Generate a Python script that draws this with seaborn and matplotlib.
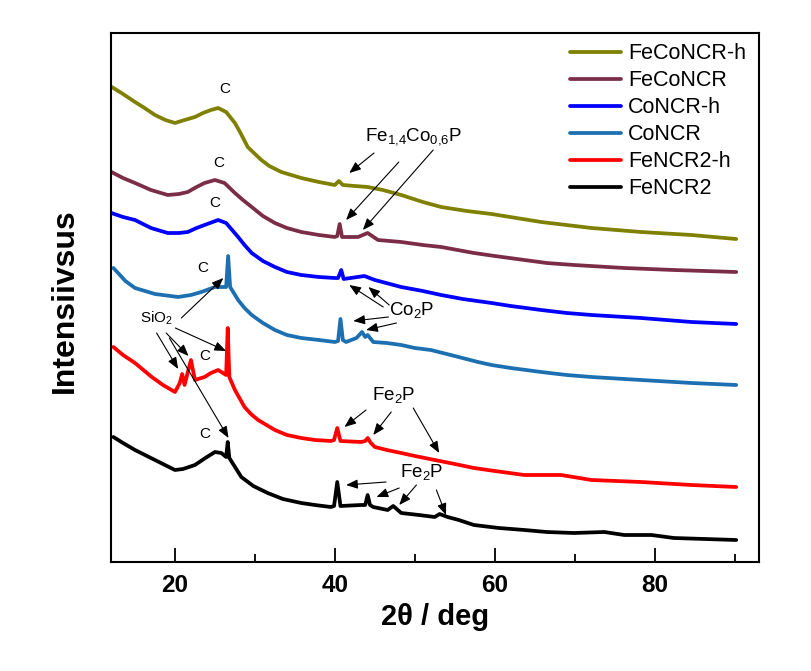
import numpy as np
import pandas as pd
import matplotlib
matplotlib.use("Agg")
import matplotlib.pyplot as plt
import seaborn as sns
from matplotlib.ticker import FixedLocator

# ---------------- data (2theta in deg, intensity in arbitrary offset units) -------------
labels = ["FeCoNCR-h", "FeCoNCR", "CoNCR-h", "CoNCR", "FeNCR2-h", "FeNCR2"]
colors = ["#808000", "#7B2D46", "#0000FF", "#1C6FB0", "#FF0000", "#000000"]

x_fecoh = [12.1, 13.5, 15.0, 16.2, 17.5, 18.8, 20.0, 21.2, 22.5, 23.5, 24.5, 25.4, 26.4,
           27.5, 28.2, 29.1, 30.8, 31.8, 33.3, 35.8, 38.0, 40.0, 40.5, 41.0, 42.5, 44.1,
           46.0, 48.3, 51.0, 53.3, 56.5, 59.6, 65.8, 72.1, 78.3, 84.6, 90.2]
y_fecoh = [483, 476, 468, 462, 455, 450, 447, 450, 453, 457, 460, 462, 458,
           447, 437, 423, 410, 404, 398, 392, 388, 385, 389, 385, 384, 383,
           380, 375, 368, 363, 359, 356, 348, 342, 338, 335, 331]

x_feco = [12.05, 13.5, 15.0, 17.0, 19.1, 20.5, 21.6, 22.7, 23.7, 25.0, 26.2, 27.5, 28.5,
          29.6, 31.0, 32.5, 34.0, 35.8, 38.0, 40.0, 40.3, 40.6, 40.9, 42.9, 44.1, 45.4,
          48.3, 51.0, 53.3, 57.4, 60.0, 63.7, 66.5, 69.9, 76.2, 82.4, 90.2]
y_feco = [398, 392, 387, 380, 375, 376, 378, 383, 387, 390, 387, 377, 370,
          363, 354, 347, 342, 338, 335, 333, 334, 346, 333, 333, 337, 330,
          328, 325, 323, 317, 314, 310, 307, 305, 302, 300, 298]

x_coh = [12.05, 13.5, 15.0, 17.0, 19.1, 20.5, 21.6, 22.7, 23.7, 25.4, 26.4, 27.9, 28.7,
         29.6, 31.0, 32.5, 34.0, 35.8, 38.0, 40.0, 40.4, 40.8, 41.1, 43.7, 45.0, 48.3,
         51.0, 53.3, 56.0, 59.6, 62.0, 65.8, 69.0, 72.1, 78.3, 84.6, 90.2]
y_coh = [357, 353, 350, 342, 337, 337, 338, 342, 345, 350, 347, 333, 325,
         317, 309, 303, 298, 295, 293, 292, 292, 300, 291, 294, 290, 283,
         279, 275, 271, 267, 264, 260, 257, 255, 252, 248, 246]

x_co = [12.3, 13.0, 13.8, 15.0, 17.5, 20.4, 22.0, 23.3, 25.0, 26.4, 26.65, 26.9, 27.9,
        28.7, 29.6, 31.0, 32.5, 34.0, 35.8, 38.0, 40.0, 40.4, 40.7, 41.0, 41.4, 42.7,
        43.4, 43.8, 44.1, 44.8, 46.5, 48.3, 50.0, 52.0, 54.5, 57.9, 59.6, 62.0, 65.8,
        69.0, 72.1, 78.3, 84.6, 90.2]
y_co = [302, 296, 289, 282, 276, 273, 275, 278, 283, 283, 314, 283, 270,
        262, 255, 247, 240, 235, 232, 230, 228, 229, 251, 230, 228, 232,
        238, 233, 235, 228, 227, 225, 222, 220, 215, 208, 205, 202, 198,
        195, 193, 190, 187, 185]

x_fe2h = [12.3, 13.5, 15.0, 17.1, 18.5, 20.0, 20.6, 20.9, 21.2, 22.0, 22.5, 23.7, 24.5,
          25.4, 26.4, 26.6, 26.8, 27.5, 28.7, 29.5, 30.4, 32.5, 34.0, 35.8, 37.5, 39.5,
          39.9, 40.3, 40.7, 43.3, 43.8, 44.1, 44.5, 45.0, 46.5, 48.3, 50.0, 52.5, 55.0,
          57.4, 60.0, 63.7, 68.3, 72.1, 78.3, 84.6, 90.2]
y_fe2h = [223, 215, 207, 193, 185, 178, 187, 196, 185, 210, 190, 193, 197,
          200, 195, 242, 193, 180, 163, 156, 150, 140, 135, 132, 130, 129,
          130, 142, 129, 128, 129, 132, 127, 123, 120, 117, 114, 110, 106,
          102, 99, 95, 95, 90, 88, 85, 83]

x_fe2 = [12.3, 13.5, 15.0, 17.5, 20.0, 21.0, 22.5, 23.8, 25.0, 25.8, 26.4, 26.6, 26.8,
         28.3, 29.8, 31.6, 33.5, 35.8, 37.5, 39.5, 39.9, 40.3, 40.7, 43.3, 43.8, 44.1,
         44.4, 44.8, 46.6, 47.3, 48.3, 50.5, 52.5, 53.1, 54.1, 55.5, 57.4, 60.5, 63.7,
         66.5, 69.9, 73.7, 76.2, 79.6, 82.4, 90.2]
y_fe2 = [133, 127, 120, 110, 100, 101, 105, 112, 118, 117, 113, 128, 112,
         93, 84, 77, 71, 67, 65, 63, 64, 88, 64, 65, 65, 75,
         65, 63, 60, 64, 57, 55, 53, 56, 53, 50, 45, 42, 40,
         38, 37, 38, 35, 35, 32, 30]

xs = [x_fecoh, x_feco, x_coh, x_co, x_fe2h, x_fe2]
ys = [y_fecoh, y_feco, y_coh, y_co, y_fe2h, y_fe2]

x_major = [20, 40, 60, 80]
x_minor = [30, 50, 70, 90]

# ---------------- style -------------
sns.set_style("white")
plt.rcParams["font.family"] = ["Liberation Sans", "DejaVu Sans"]
plt.rcParams["mathtext.fontset"] = "custom"
plt.rcParams["mathtext.rm"] = "Liberation Sans"
plt.rcParams["mathtext.default"] = "regular"
plt.rcParams["text.color"] = "black"
plt.rcParams["axes.labelcolor"] = "black"
plt.rcParams["xtick.color"] = "black"

fig = plt.figure(figsize=(8.12, 6.71), dpi=100)
ax = fig.add_axes([111 / 812, 1 - 562 / 671, (758.6 - 111) / 812, (562 - 33) / 671])

for lab, col, x, y in zip(labels, colors, xs, ys):
    df = pd.DataFrame({"2theta": x, "I": y})
    sns.lineplot(data=df, x="2theta", y="I", color=col, lw=2.7, label=lab,
                 estimator=None, sort=False, ax=ax)

ax.set_xlim(12, 93)
ax.set_ylim(8, 537)
ax.set_yticks([])
ax.xaxis.set_major_locator(FixedLocator(x_major))
ax.xaxis.set_minor_locator(FixedLocator(x_minor))
ax.set_xticklabels([str(v) for v in x_major], fontsize=17.5, fontweight="bold")
ax.tick_params(axis="x", which="both", bottom=True, top=False, direction="in", color="black")
ax.tick_params(axis="x", which="major", length=10, width=1.3, pad=9)
ax.tick_params(axis="x", which="minor", length=5.5, width=1.3)
for s in ax.spines.values():
    s.set_linewidth(1.5)
    s.set_color("black")

ax.set_xlabel("2θ / deg", fontsize=21, fontweight="bold", labelpad=4)
ax.set_ylabel("Intensiivsus", fontsize=23, fontweight="bold")
ax.yaxis.set_label_coords(-0.048, 0.494)

ax.legend(loc="upper left", bbox_to_anchor=((570 - 111) / 648, 0.981), frameon=False,
          fontsize=15.5, borderpad=0, borderaxespad=0, handlelength=2.4,
          handletextpad=0.3, labelspacing=0.28)

# ---------------- annotations -------------
for (tx, ty) in [(26.2, 481), (25.5, 407), (25.0, 367), (23.5, 302), (23.7, 214), (23.7, 136)]:
    ax.text(tx, ty, "C", fontsize=11, ha="center", va="center")

ax.text(17.7, 252, "SiO$_2$", fontsize=11, ha="center", va="center")
ax.text(49.9, 433, "Fe$_{1{,}4}$Co$_{0{,}6}$P", fontsize=13.5, ha="center", va="center")
ax.text(49.55, 260, "Co$_2$P", fontsize=13.5, ha="center", va="center")
ax.text(47.3, 175, "Fe$_2$P", fontsize=13.5, ha="center", va="center")
ax.text(50.8, 98, "Fe$_2$P", fontsize=13.5, ha="center", va="center")

arrows = [
    ((20.8, 252), (26.05, 292)), ((17.7, 237), (20.4, 201)), ((18.9, 237), (21.7, 214)),
    ((20.05, 242), (26.4, 219)), ((19.3, 232), (26.7, 132)),
    ((44.9, 417), (41.8, 397)), ((48.0, 408), (41.4, 350)), ((52.3, 420), (43.5, 340)),
    ((46.05, 263), (41.8, 285)), ((46.8, 265), (44.2, 283)), ((46.7, 253), (42.3, 249)),
    ((47.7, 247), (43.9, 240)),
    ((43.9, 160), (41.2, 143)), ((47.05, 158), (44.8, 135)), ((49.8, 162), (53.05, 117)),
    ((46.4, 88), (41.4, 85)), ((48.05, 82), (45.2, 73)), ((50.2, 85), (48.05, 65)),
    ((52.7, 80), (53.9, 55)),
]
for start, tip in arrows:
    ax.annotate("", xy=tip, xytext=start,
                arrowprops=dict(arrowstyle="-|>,head_length=0.5,head_width=0.2",
                                color="black", lw=0.8, mutation_scale=14,
                                shrinkA=0, shrinkB=0))

fig.savefig("out.png", dpi=100)
